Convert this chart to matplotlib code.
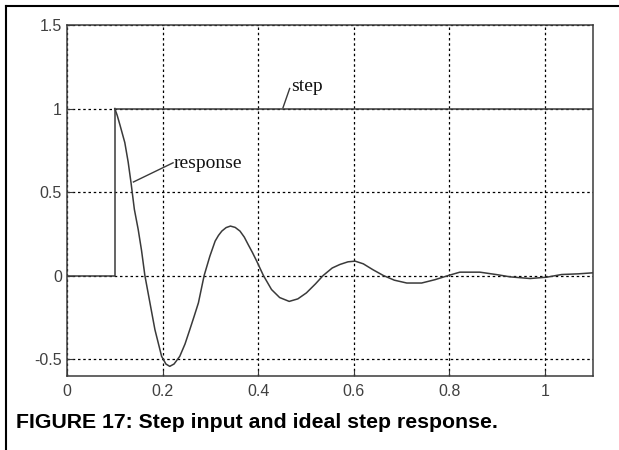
# Step input and ideal step response
import matplotlib
matplotlib.use("Agg")
import matplotlib.pyplot as plt
from matplotlib.lines import Line2D

# step input
step_t = [0.0, 0.1, 0.1, 1.1]
step_y = [0.0, 0.0, 1.0, 1.0]

# response
resp_t = [0.100, 0.105, 0.111, 0.121, 0.128, 0.134, 0.141, 0.149, 0.156, 0.163,
          0.174, 0.184, 0.198, 0.207, 0.215, 0.224, 0.236, 0.247, 0.257, 0.266,
          0.275, 0.287, 0.299, 0.310, 0.317, 0.324, 0.333, 0.342, 0.352, 0.362,
          0.371, 0.379, 0.388, 0.397, 0.411, 0.428, 0.445, 0.465, 0.483, 0.501,
          0.520, 0.536, 0.555, 0.571, 0.588, 0.603, 0.620, 0.640, 0.662, 0.685,
          0.711, 0.742, 0.770, 0.798, 0.822, 0.864, 0.900, 0.927, 0.969, 1.004,
          1.035, 1.070, 1.100]
resp_y = [1.000, 0.960, 0.900, 0.796, 0.680, 0.556, 0.396, 0.276, 0.150, 0.000,
          -0.170, -0.324, -0.484, -0.530, -0.544, -0.530, -0.484, -0.410, -0.324, -0.245,
          -0.164, 0.000, 0.116, 0.206, 0.240, 0.266, 0.287, 0.296, 0.288, 0.266,
          0.230, 0.186, 0.138, 0.086, 0.000, -0.084, -0.132, -0.155, -0.140, -0.104,
          -0.050, 0.000, 0.045, 0.066, 0.082, 0.086, 0.070, 0.035, 0.000, -0.028,
          -0.045, -0.045, -0.025, 0.000, 0.020, 0.020, 0.005, -0.008, -0.018, -0.010,
          0.006, 0.010, 0.016]

x_ticks = [0, 0.2, 0.4, 0.6, 0.8, 1.0]
x_labels = ["0", "0.2", "0.4", "0.6", "0.8", "1"]
y_ticks = [-0.5, 0, 0.5, 1.0, 1.5]
y_labels = ["-0.5", "0", "0.5", "1", "1.5"]

fig = plt.figure(figsize=(6.19, 4.5), dpi=100)
ax = fig.add_axes([0.1082, 0.1651, 0.8493, 0.7793])

grey = "#3a3a3a"
ax.plot(step_t, step_y, color=grey, lw=1.1, zorder=3)
ax.plot(resp_t, resp_y, color=grey, lw=1.1, zorder=3)

ax.set_xlim(0, 1.1)
ax.set_ylim(-0.6, 1.5)
ax.set_xticks(x_ticks)
ax.set_xticklabels(x_labels)
ax.set_yticks(y_ticks)
ax.set_yticklabels(y_labels)
ax.tick_params(direction="in", length=4, color=grey, labelcolor="#404040",
               labelsize=11.5)
ax.tick_params(axis="x", pad=6)
ax.tick_params(axis="y", pad=3.5)
for lab in ax.get_xticklabels() + ax.get_yticklabels():
    lab.set_family("Liberation Sans")
ax.grid(True, color="black", ls=(0, (2, 2.2)), lw=0.9)
ax.set_axisbelow(True)
for s in ax.spines.values():
    s.set_color(grey)
    s.set_linewidth(1.1)

# labels with leader lines
ax.text(0.47, 1.13, "step", family="Liberation Serif", fontsize=14,
        va="center", ha="left", color="#111111")
ax.plot([0.452, 0.466], [1.005, 1.12], color=grey, lw=1)
ax.text(0.224, 0.67, "response", family="Liberation Serif", fontsize=14,
        va="center", ha="left", color="#111111")
ax.plot([0.139, 0.222], [0.56, 0.675], color=grey, lw=1)

# caption
fig.text(16 / 619, 1 - 422 / 450, "FIGURE 17: Step input and ideal step response.",
         family="Liberation Sans", weight="bold", fontsize=15.3, va="center",
         ha="left", color="black")

# image border (top and left)
fig.add_artist(Line2D([6 / 619, 1], [1 - 6 / 450, 1 - 6 / 450],
                      transform=fig.transFigure, color="black", lw=1.5))
fig.add_artist(Line2D([6 / 619, 6 / 619], [0, 1 - 6 / 450],
                      transform=fig.transFigure, color="black", lw=1.5))

fig.savefig("out.png", dpi=100)
